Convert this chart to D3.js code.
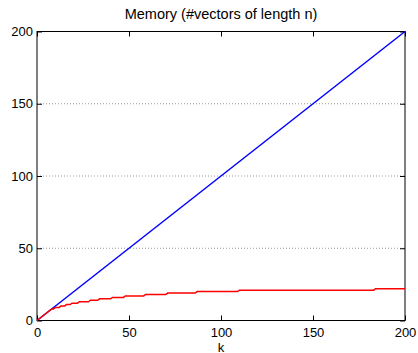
<!DOCTYPE html>
<html>
<head>
<meta charset="utf-8">
<script src="https://cdn.jsdelivr.net/npm/d3@7"></script>
<style>
  body { margin: 0; background: #fff; }
  svg { display: block; font-family: "Liberation Sans", Arial, sans-serif; }
</style>
</head>
<body>
<svg id="chart" width="418" height="353"></svg>
<script>
// full memory: one vector per iteration
const fullK = [0, 200];
const fullMem = [0, 200];

// limited memory: value grows until k=8, then steps up slowly
const stepK = [0, 8, 10, 13, 16, 19, 23, 29, 34, 41, 48, 59, 71, 87, 110, 184, 200];
const stepMem = [0, 8, 9, 10, 11, 12, 13, 14, 15, 16, 17, 18, 19, 20, 21, 22, 22];

const xTicks = [0, 50, 100, 150, 200];
const yTicks = [0, 50, 100, 150, 200];

const svgElement = document.getElementById('chart');
const margin = { top: 31.5, right: 13, bottom: 32.5, left: 37 };
const width = 418 - margin.left - margin.right;
const height = 353 - margin.top - margin.bottom;

const svg = d3.select(svgElement)
  .append('g')
  .attr('transform', `translate(${margin.left},${margin.top})`);

const x = d3.scaleLinear().domain([0, 200]).range([0, width]);
const y = d3.scaleLinear().domain([0, 200]).range([height, 0]);

// dotted horizontal grid
svg.append('g')
  .selectAll('line')
  .data(yTicks.slice(1, -1))
  .enter()
  .append('line')
  .attr('x1', 0).attr('x2', width)
  .attr('y1', d => y(d)).attr('y2', d => y(d))
  .attr('stroke', '#999')
  .attr('stroke-width', 1)
  .attr('stroke-dasharray', '1,2');

// axes, ticks pointing inward
const tickLen = 5;
svg.append('g')
  .attr('transform', `translate(0,${height})`)
  .call(d3.axisBottom(x).tickValues(xTicks).tickSizeInner(-tickLen).tickSizeOuter(0).tickPadding(7))
  .call(g => g.select('.domain').remove());
svg.append('g')
  .call(d3.axisTop(x).tickValues(xTicks).tickSizeInner(-tickLen).tickSizeOuter(0).tickFormat(''))
  .call(g => g.select('.domain').remove());
svg.append('g')
  .call(d3.axisLeft(y).tickValues(yTicks).tickSizeInner(-tickLen).tickSizeOuter(0).tickPadding(4))
  .call(g => g.select('.domain').remove());
svg.append('g')
  .attr('transform', `translate(${width},0)`)
  .call(d3.axisRight(y).tickValues(yTicks).tickSizeInner(-tickLen).tickSizeOuter(0).tickFormat(''))
  .call(g => g.select('.domain').remove());

svg.selectAll('.tick text')
  .attr('font-size', 13)
  .attr('font-family', '"Liberation Sans", Arial, sans-serif')
  .attr('fill', '#000');
svg.selectAll('.tick line').attr('stroke', '#000');

// box
svg.append('rect')
  .attr('width', width).attr('height', height)
  .attr('fill', 'none').attr('stroke', '#000').attr('stroke-width', 1);

const line = d3.line().x(d => x(d[0])).y(d => y(d[1]));

// blue line
svg.append('path')
  .datum(fullK.map((k, i) => [k, fullMem[i]]))
  .attr('d', line)
  .attr('fill', 'none').attr('stroke', '#0000ff').attr('stroke-width', 1.5);

// red step line: value held until one before the next step
const redPts = [];
stepK.forEach((k, i) => {
  redPts.push([k, stepMem[i]]);
  if (i > 0 && i < stepK.length - 1) redPts.push([stepK[i + 1] - 1, stepMem[i]]);
});
svg.append('path')
  .datum(redPts)
  .attr('d', line)
  .attr('fill', 'none').attr('stroke', '#ff0000').attr('stroke-width', 1.5);

// title and x label
svg.append('text')
  .attr('x', width / 2).attr('y', -13)
  .attr('text-anchor', 'middle')
  .attr('font-size', 14.5)
  .text('Memory (#vectors of length n)');
svg.append('text')
  .attr('x', width / 2).attr('y', height + 31)
  .attr('text-anchor', 'middle')
  .attr('font-size', 13)
  .text('k');
</script>
</body>
</html>
